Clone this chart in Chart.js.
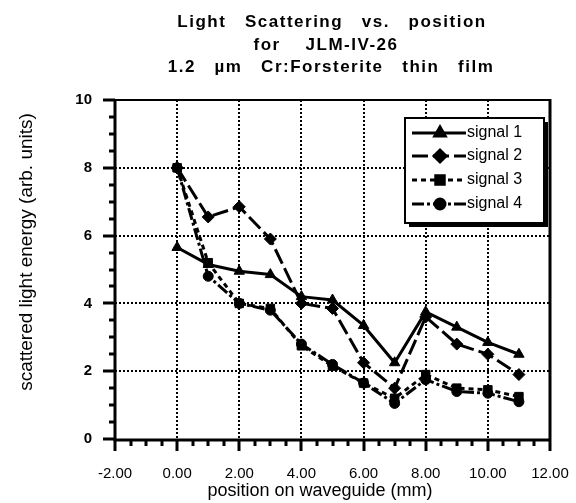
<!DOCTYPE html>
<html><head><meta charset="utf-8">
<script src="https://cdn.jsdelivr.net/npm/chart.js@4"></script>
<style>html,body{margin:0;padding:0;background:#fff}#c{display:block}</style>
</head><body>
<canvas id="c" width="576" height="503"></canvas>
<script>
const positions = [0, 1, 2, 3, 4, 5, 6, 7, 8, 9, 10, 11];
const signal1 = [5.65, 5.15, 4.95, 4.85, 4.2, 4.1, 3.35, 2.25, 3.75, 3.3, 2.85, 2.5];
const signal2 = [8.0, 6.55, 6.85, 5.9, 4.0, 3.85, 2.25, 1.5, 3.6, 2.8, 2.5, 1.9];
const signal3 = [8.0, 5.2, 4.0, 3.85, 2.75, 2.15, 1.65, 1.2, 1.9, 1.5, 1.45, 1.25];
const signal4 = [8.0, 4.8, 4.0, 3.8, 2.8, 2.2, 1.65, 1.05, 1.75, 1.4, 1.35, 1.1];
const seriesNames = ['signal 1', 'signal 2', 'signal 3', 'signal 4'];
const titleLines = ['Light   Scattering   vs.   position', 'for    JLM-IV-26', '1.2   \u00b5m   Cr:Forsterite   thin   film'];
const xAxisTitle = 'position on waveguide (mm)';
const yAxisTitle = 'scattered light energy (arb. units)';
const xMin = -2, xMax = 12, xStep = 2, xMinor = 0.5;
const yMin = 0, yMax = 10, yStep = 2, yMinor = 0.5;

const FONT = '"Liberation Sans", Arial, Helvetica, sans-serif';
const toXY = arr => positions.map((p, i) => ({x: p, y: arr[i]}));

const styles = [
  {pointStyle: 'triangle', radius: 6, dash: []},
  {pointStyle: 'rectRot', radius: 6, dash: [16, 5]},
  {pointStyle: 'rect', radius: 6, dash: [5, 4]},
  {pointStyle: 'circle', radius: 5, dash: [12, 3, 3, 3]}
];
const series = [signal1, signal2, signal3, signal4];

const datasets = series.map((s, i) => ({
  label: seriesNames[i],
  data: toXY(s),
  borderColor: '#000',
  backgroundColor: '#000',
  borderWidth: 3,
  borderDash: styles[i].dash,
  pointStyle: styles[i].pointStyle,
  pointRadius: styles[i].radius,
  pointBorderWidth: 1,
  pointBackgroundColor: '#000',
  pointBorderColor: '#000',
  tension: 0,
  fill: false
}));

const framePlugin = {
  id: 'frame',
  beforeDatasetsDraw(chart) {
    const {ctx, chartArea: a, scales: {x, y}} = chart;
    ctx.save();
    ctx.strokeStyle = '#000';
    ctx.lineWidth = 2;
    ctx.setLineDash([2, 2]);
    for (let v = xMin + xStep; v < xMax; v += xStep) {
      const px = Math.round(x.getPixelForValue(v));
      ctx.beginPath(); ctx.moveTo(px, a.top); ctx.lineTo(px, a.bottom); ctx.stroke();
    }
    for (let v = yMin + yStep; v < yMax; v += yStep) {
      const py = Math.round(y.getPixelForValue(v));
      ctx.beginPath(); ctx.moveTo(a.left, py); ctx.lineTo(a.right, py); ctx.stroke();
    }
    ctx.restore();
  },
  afterDatasetsDraw(chart) {
    const {ctx, chartArea: a, scales: {x, y}} = chart;
    ctx.save();
    ctx.strokeStyle = '#000';
    ctx.setLineDash([]);
    ctx.lineWidth = 2;
    ctx.beginPath(); ctx.moveTo(a.left, a.top); ctx.lineTo(a.right, a.top); ctx.stroke();
    ctx.lineWidth = 3;
    ctx.beginPath(); ctx.moveTo(a.right, a.top - 1); ctx.lineTo(a.right, a.bottom); ctx.stroke();
    ctx.beginPath(); ctx.moveTo(a.left, a.top - 1); ctx.lineTo(a.left, a.bottom + 1); ctx.lineTo(a.right + 1, a.bottom + 1); ctx.stroke();
    for (let v = xMin; v <= xMax + 1e-9; v += xMinor) {
      const px = Math.round(x.getPixelForValue(v));
      const major = Math.abs(v / xStep - Math.round(v / xStep)) < 1e-6;
      ctx.lineWidth = 3;
      ctx.beginPath(); ctx.moveTo(px, a.bottom); ctx.lineTo(px, a.bottom + (major ? 12 : 7)); ctx.stroke();
    }
    for (let v = yMin; v <= yMax + 1e-9; v += yMinor) {
      const py = Math.round(y.getPixelForValue(v));
      const major = Math.abs(v / yStep - Math.round(v / yStep)) < 1e-6;
      ctx.lineWidth = 3;
      ctx.beginPath(); ctx.moveTo(a.left, py); ctx.lineTo(a.left - (major ? 12 : 6), py); ctx.stroke();
    }
    ctx.restore();
  },
  afterDraw(chart) {
    const {ctx} = chart;
    ctx.save();
    ctx.fillStyle = '#000';
    ctx.textAlign = 'center';
    ctx.textBaseline = 'alphabetic';
    ctx.font = 'bold 17px ' + FONT;
    if ('letterSpacing' in ctx) ctx.letterSpacing = '1.5px';
    const tys = [27, 50, 72];
    const txs = [332, 326, 331];
    titleLines.forEach((t, i) => ctx.fillText(t, txs[i], tys[i]));
    if ('letterSpacing' in ctx) ctx.letterSpacing = '0px';
    ctx.textBaseline = 'middle';
    ctx.font = '18px ' + FONT;
    ctx.fillText(xAxisTitle, 320, 491);
    ctx.save();
    ctx.translate(27, 252);
    ctx.rotate(-Math.PI / 2);
    ctx.font = '19px ' + FONT;
    ctx.fillText(yAxisTitle, 0, 0);
    ctx.restore();
    // legend
    const L = 405, T = 118, R = 544, B = 223;
    ctx.fillStyle = '#000';
    ctx.fillRect(L + 4, T + 4, R - L, B - T);
    ctx.fillStyle = '#fff';
    ctx.fillRect(L, T, R - L, B - T);
    ctx.strokeStyle = '#000';
    ctx.lineWidth = 2;
    ctx.strokeRect(L, T, R - L, B - T);
    const rows = [133, 156, 180, 204];
    chart.data.datasets.forEach((ds, i) => {
      const yy = rows[i];
      ctx.save();
      ctx.strokeStyle = '#000';
      ctx.lineWidth = 3;
      ctx.setLineDash(ds.borderDash || []);
      ctx.beginPath(); ctx.moveTo(412, yy); ctx.lineTo(466, yy); ctx.stroke();
      ctx.setLineDash([]);
      ctx.fillStyle = '#000';
      Chart.helpers.drawPoint(ctx, {pointStyle: ds.pointStyle, radius: ds.pointRadius, borderWidth: 1, rotation: 0}, 440, yy);
      ctx.restore();
      ctx.fillStyle = '#000';
      ctx.font = '16px ' + FONT;
      ctx.textAlign = 'left';
      ctx.textBaseline = 'middle';
      ctx.fillText(ds.label, 467, yy);
    });
    ctx.restore();
  }
};

new Chart(document.getElementById('c'), {
  type: 'line',
  data: {datasets},
  options: {
    responsive: false,
    animation: false,
    devicePixelRatio: 1,
    layout: {padding: {left: 0, right: 26, top: 100, bottom: 0}},
    plugins: {legend: {display: false}, title: {display: false}, tooltip: {enabled: false}},
    elements: {line: {borderJoinStyle: 'round'}},
    scales: {
      x: {
        type: 'linear', min: xMin, max: xMax,
        grid: {display: false, drawTicks: false},
        border: {display: false},
        ticks: {stepSize: xStep, padding: 26, color: '#000', font: {family: FONT, size: 15}, maxRotation: 0, autoSkip: false,
          callback: v => Number(v).toFixed(2)},
        afterFit: s => { s.height = 64; s.paddingLeft = 0; s.paddingRight = 0; }
      },
      y: {
        type: 'linear', min: yMin, max: yMax,
        grid: {display: false, drawTicks: false},
        border: {display: false},
        ticks: {stepSize: yStep, padding: 23, color: '#000', font: {family: FONT, size: 15, weight: 'bold'},
          callback: v => String(v)},
        afterFit: s => { s.width = 115; s.paddingTop = 0; s.paddingBottom = 0; }
      }
    }
  },
  plugins: [framePlugin]
});
</script>
</body></html>
